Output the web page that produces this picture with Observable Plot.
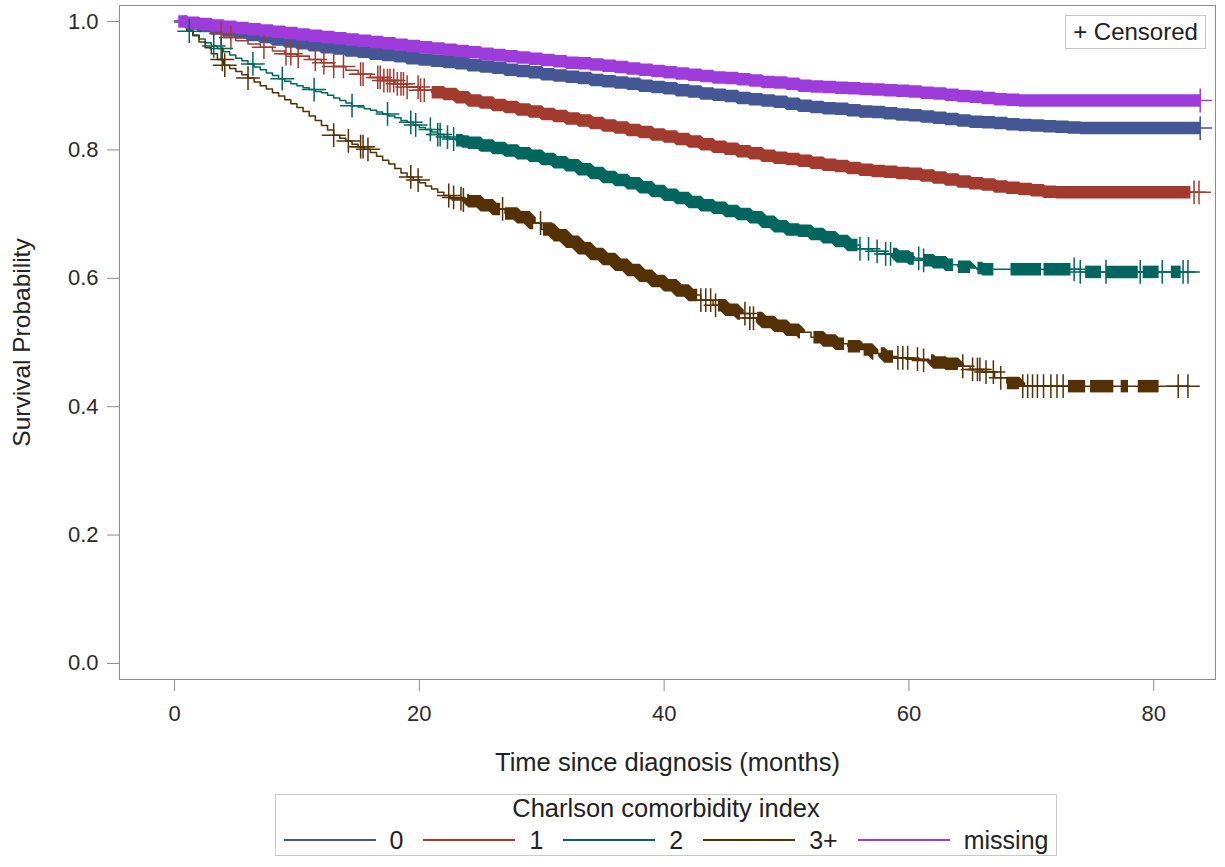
<!DOCTYPE html>
<html>
<head>
<meta charset="utf-8">
<script src="https://cdn.jsdelivr.net/npm/d3@7"></script>
<script src="https://cdn.jsdelivr.net/npm/@observablehq/plot@0.6"></script>
<style>
  body { margin: 0; background: #fff; font-family: "Liberation Sans", Arial, sans-serif; }
  #wrap { position: relative; width: 1225px; height: 867px; background: #fff; }
  #wrap svg g[aria-label="x-axis tick label"], #wrap svg g[aria-label="y-axis tick label"],
  #wrap svg g[aria-label="x-axis"] text, #wrap svg g[aria-label="y-axis"] text { fill: #2b2b2b; }
  #censored {
    position: absolute; left: 1065px; top: 15px; width: 141px; height: 34px; box-sizing: border-box;
    border: 1px solid #c8c8c8; background: #fff; color: #222; font-size: 24px; line-height: 32px; text-align: center;
  }
  #legend {
    position: absolute; left: 275px; top: 794px; width: 782px; height: 62px; box-sizing: border-box;
    border: 1px solid #c8c8c8; color: #222;
  }
  #legend .title { font-size: 25.5px; line-height: 25px; text-align: center; margin-top: 1px; }
  #legend .row { display: flex; justify-content: center; align-items: center; height: 28px; margin-top: 5px; font-size: 25px; }
  #legend .sw { width: 92px; height: 0; border-top: 2px solid; margin-right: 14px; }
  #legend .lb { margin-right: 20px; }
  #legend .lb:last-child { margin-right: 0; }
</style>
</head>
<body>
<div id="wrap"></div>
<script>
// ---------- data ----------
const groups = ["0", "1", "2", "3+", "missing"];
const colors = ["#445694", "#A23A2E", "#01665E", "#543005", "#9D3CDB"];
const legendTitle = "Charlson comorbidity index";
const xTicks = [0, 20, 40, 60, 80];
const yTicks = [0, 0.2, 0.4, 0.6, 0.8, 1.0];

// time grids (months)
const monthGrid = [0,1,2,3,4,5,6,7,8,9,10,11,12,13,14,15,16,17,18,19,20,21,22,23,24,25,26,27,28,29,30,31,32,33,34,35,36,37,38,39,40,41,42,43,44,45,46,47,48,49,50,51,52,53,54,55,56,57,58,59,60,61,62,63,64,65,66,67,68,69,70,71,72,73,74,75,76,77,78,79,80,81,82,83,84];
const fineGrid = [0,0.5,1,1.5,2,2.5,3,3.5,4,4.5,5,5.5,6,6.5,7,7.5,8,8.5,9,9.5,10,10.5,11,11.5,12,12.5,13,13.5,14,14.5,15,15.5,16,16.5,17,17.5,18,18.5,19,19.5,20,20.5,21,21.5,22,22.5,23,23.5,24,25,26,27,28,29,30,31,32,33,34,35,36,37,38,39,40,41,42,43,44,45,46,47,48,49,50,51,52,53,54,55,56,57,58,59,60,61,62,63,64,65,66,67,68,69,70,71,72,73,74,75,76,77,78,79,80,81,82,83,84];

// survival estimates
const surv0 = [1.000,0.997,0.993,0.990,0.986,0.983,0.979,0.976,0.972,0.969,0.966,0.963,0.960,0.958,0.955,0.953,0.950,0.948,0.946,0.943,0.941,0.939,0.937,0.935,0.932,0.930,0.928,0.925,0.923,0.921,0.918,0.916,0.914,0.912,0.909,0.907,0.905,0.903,0.900,0.898,0.896,0.893,0.891,0.888,0.886,0.884,0.881,0.879,0.877,0.875,0.872,0.869,0.867,0.865,0.864,0.862,0.860,0.859,0.857,0.855,0.854,0.852,0.850,0.848,0.846,0.844,0.843,0.842,0.840,0.839,0.838,0.837,0.836,0.835,0.834];
const surv1 = [1.000,0.994,0.988,0.981,0.975,0.970,0.965,0.960,0.954,0.950,0.946,0.941,0.936,0.930,0.924,0.918,0.913,0.908,0.903,0.898,0.893,0.890,0.887,0.882,0.877,0.874,0.870,0.867,0.863,0.860,0.856,0.853,0.849,0.846,0.842,0.838,0.835,0.831,0.828,0.824,0.821,0.817,0.813,0.809,0.805,0.802,0.798,0.795,0.791,0.788,0.786,0.783,0.780,0.777,0.775,0.772,0.769,0.767,0.766,0.764,0.763,0.760,0.757,0.754,0.751,0.748,0.746,0.743,0.741,0.739,0.737,0.735,0.734];
const surv2 = [1.000,0.993,0.985,0.979,0.973,0.967,0.962,0.958,0.953,0.948,0.943,0.939,0.934,0.929,0.925,0.920,0.916,0.911,0.907,0.903,0.900,0.897,0.894,0.891,0.889,0.885,0.881,0.877,0.873,0.869,0.867,0.864,0.862,0.859,0.856,0.853,0.850,0.846,0.843,0.839,0.835,0.832,0.828,0.824,0.820,0.817,0.815,0.813,0.811,
  0.807,0.803,0.799,0.795,0.791,0.786,0.781,0.776,0.770,0.764,0.758,0.753,0.748,0.742,0.736,0.730,0.725,0.719,0.714,0.710,0.705,0.700,0.695,0.688,0.681,0.676,0.674,0.669,0.664,0.658,0.652,0.646,0.642,0.638,0.634,0.631,0.628,0.625,0.621,0.618,0.616,0.614,0.614,0.614,0.614,0.614,0.614,0.614,0.614,0.610];
const surv3 = [1.000,0.994,0.987,0.978,0.968,0.959,0.950,0.941,0.932,0.927,0.922,0.917,0.912,0.906,0.900,0.895,0.889,0.884,0.878,0.872,0.866,0.860,0.853,0.846,0.838,0.831,0.823,0.818,0.814,0.809,0.805,0.801,0.796,0.790,0.784,0.778,0.771,0.764,0.758,0.753,0.749,0.744,0.739,0.734,0.729,0.726,0.724,0.722,0.720,
  0.714,0.708,0.701,0.695,0.686,0.676,0.667,0.657,0.647,0.638,0.630,0.621,0.613,0.604,0.596,0.589,0.581,0.574,0.566,0.558,0.551,0.545,0.538,0.532,0.526,0.520,0.516,0.508,0.503,0.498,0.494,0.489,0.483,0.478,0.476,0.474,0.472,0.469,0.467,0.463,0.458,0.454,0.445,0.437,0.432];
const survMissing = [1.000,0.998,0.996,0.994,0.992,0.990,0.988,0.986,0.984,0.982,0.980,0.978,0.976,0.974,0.972,0.970,0.968,0.966,0.964,0.962,0.960,0.958,0.956,0.954,0.952,0.950,0.948,0.946,0.944,0.942,0.940,0.938,0.936,0.935,0.933,0.931,0.929,0.927,0.925,0.923,0.921,0.919,0.917,0.915,0.913,0.912,0.910,0.908,0.906,0.905,0.903,0.900,0.899,0.898,0.897,0.896,0.895,0.894,0.893,0.892,0.891,0.889,0.888,0.886,0.884,0.883,0.881,0.879,0.878,0.877];

// last follow-up time per group
const lastTime = [83.8, 83.7, 82.8, 82.8, 83.8];

// dense runs of censoring marks (time ranges) per group
const dense0 = [[0.8, 83.8]];
const dense1 = [[21, 83.0]];
const dense2 = [[23, 55.8],[58.7,60.4],[61.2,63.6],[64,65],[65.6,66.9],[68.3,70.8],[71,73.2],[74.4,75.7],[76.1,78.7],[79.1,80.4],[81.4,82.2]];
const dense3 = [[23.9,26.6],[27,29.3],[30.1,42.7],[44.4,46.2],[47.6,51.1],[52.2,54.7],[55,56],[56.3,57.1],[57.7,58.7],[61.8,64],[68,69],[73,74.4],[74.8,76.7],[77.3,77.9],[78.7,80.4]];
const denseMissing = [[0.3, 83.8]];

// individual censoring times per group
const cens0 = [83.8];
const cens1 = [3.8,4.6,7.3,9.1,9.5,10.1,11.5,12.2,13,13.8,15.2,15.4,16.6,16.8,17.1,17.4,17.6,17.9,18.2,18.5,18.7,19.0,19.9,20.1,20.4,83.3,83.7];
const cens2 = [1.2,3.2,3.8,6.4,8.8,11.4,14.5,17.4,19.3,19.7,20.9,21.5,21.7,22.3,22.8,56.0,56.7,57.4,58.1,58.5,60.8,61.2,73.5,74,76.1,78.9,80.7,82.4,82.8];
const cens3 = [3.9,4.1,6.0,13.0,14.2,15.2,15.4,15.8,19.3,19.9,22.4,22.8,23.4,23.6,26.8,29.9,43,43.4,43.8,44.2,46.6,47,47.3,59.1,59.5,59.9,60.7,61.2,64.4,65.2,65.6,65.8,66.3,66.9,67.5,69.3,69.7,70.1,70.5,71,71.6,72.1,72.6,82,82.8];
const censMissing = [83.8];

// ---------- assemble ----------
const grids = [monthGrid, monthGrid, fineGrid, fineGrid, monthGrid];
const survs = [surv0, surv1, surv2, surv3, survMissing];
const denses = [dense0, dense1, dense2, dense3, denseMissing];
const censs = [cens0, cens1, cens2, cens3, censMissing];

const curveRows = [], bandRows = [], markRows = [];
groups.forEach((g, k) => {
  const s = survs[k];
  const times = grids[k].slice(0, s.length).concat([lastTime[k]]);
  const vals = s.concat([s[s.length - 1]]);
  const at = (t) => { let v = vals[0]; for (let i = 0; i < times.length; i++) { if (times[i] <= t) v = vals[i]; else break; } return v; };
  times.forEach((t, i) => curveRows.push({group: g, t, s: vals[i]}));
  denses[k].forEach(([a, b], j) => {
    const id = g + "-" + j;
    bandRows.push({group: g, id, t: a, s: at(a)});
    times.forEach((t, i) => { if (t > a && t < b) bandRows.push({group: g, id, t, s: vals[i]}); });
    bandRows.push({group: g, id, t: b, s: at(b)});
  });
  censs[k].forEach(t => markRows.push({group: g, t, s: at(t)}));
});

const chart = Plot.plot({
  width: 1225,
  height: 790,
  marginLeft: 119,
  marginRight: 10,
  marginTop: 5,
  marginBottom: 111,
  style: {fontFamily: "'Liberation Sans', Arial, sans-serif", fontSize: "22px", color: "#8c8c8c", background: "white"},
  x: {domain: [-4.5, 85.05], ticks: xTicks, tickSize: 12, tickPadding: 14, label: null},
  y: {domain: [-0.025, 1.025], ticks: yTicks, tickFormat: d3.format(".1f"), tickSize: 12, tickPadding: 9, label: null},
  color: {domain: groups, range: colors},
  marks: [
    Plot.frame({stroke: "#8c8c8c"}),
    Plot.line(curveRows, {x: "t", y: "s", z: "group", stroke: "group", curve: "step-after", strokeWidth: 1.5}),
    Plot.line(bandRows, {x: "t", y: "s", z: "id", stroke: "group", curve: "step-after", strokeWidth: 12.5, strokeLinecap: "butt", strokeLinejoin: "miter"}),
    Plot.dot(markRows, {x: "t", y: "s", stroke: "group", symbol: "plus", r: 7.7, strokeWidth: 1.5}),
    Plot.text(["Time since diagnosis (months)"], {frameAnchor: "bottom", textAnchor: "middle", dy: 83, fontSize: 25.5, fill: "#222", lineAnchor: "middle"}),
    Plot.text(["Survival Probability"], {frameAnchor: "left", textAnchor: "middle", dx: -97, rotate: -90, fontSize: 24.5, fill: "#222", lineAnchor: "middle"})
  ]
});

const wrap = document.getElementById("wrap");
wrap.appendChild(chart);

const cens = document.createElement("div");
cens.id = "censored";
cens.textContent = "+ Censored";
wrap.appendChild(cens);

const legend = document.createElement("div");
legend.id = "legend";
const title = document.createElement("div");
title.className = "title";
title.textContent = legendTitle;
legend.appendChild(title);
const row = document.createElement("div");
row.className = "row";
groups.forEach((g, k) => {
  const sw = document.createElement("span");
  sw.className = "sw";
  sw.style.borderTopColor = colors[k];
  const lb = document.createElement("span");
  lb.className = "lb";
  lb.textContent = g;
  row.appendChild(sw);
  row.appendChild(lb);
});
legend.appendChild(row);
wrap.appendChild(legend);
</script>
</body>
</html>
